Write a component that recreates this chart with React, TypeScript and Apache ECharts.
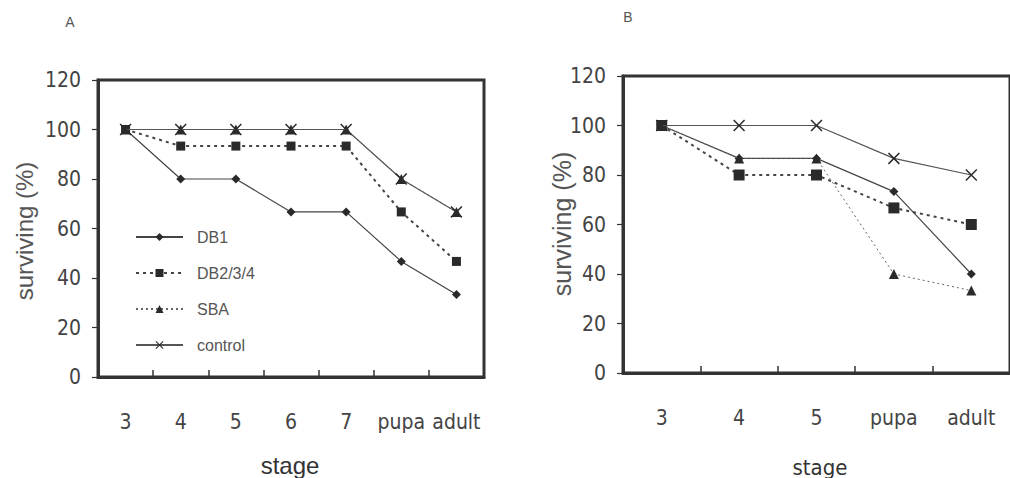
import React, { useEffect, useRef } from "react";
import * as echarts from "echarts";

const stagesA = ["3", "4", "5", "6", "7", "pupa", "adult"];
const stagesB = ["3", "4", "5", "pupa", "adult"];

const seriesNames = ["DB1", "DB2/3/4", "SBA", "control"];

const db1A = [100, 80, 80, 66.7, 66.7, 46.7, 33.3];
const db234A = [100, 93.3, 93.3, 93.3, 93.3, 66.7, 46.7];
const sbaA = [100, 100, 100, 100, 100, 80, 66.7];
const controlA = [100, 100, 100, 100, 100, 80, 66.7];

const db1B = [100, 86.7, 86.7, 73.3, 40];
const db234B = [100, 80, 80, 66.7, 60];
const sbaB = [100, 86.7, 86.7, 40, 33.3];
const controlB = [100, 100, 100, 86.7, 80];

const CROSS = "path://M0,0.9 L0.9,0 L10,9.1 L9.1,10 Z M9.1,0 L10,0.9 L0.9,10 L0,9.1 Z";

const TICK_FONT = "'Liberation Sans Narrow', 'DejaVu Sans Condensed', 'Liberation Sans', sans-serif";
const TEXT_FONT = "'Liberation Sans', Arial, sans-serif";

export default function App() {
  const ref = useRef<HTMLDivElement>(null);

  useEffect(() => {
    document.body.style.margin = "0";
    if (!ref.current) return;
    const chart = echarts.init(ref.current, undefined, { renderer: "svg" });

    const styles = [
      { symbol: "diamond", symbolSize: 9, lineStyle: { color: "#444", width: 1.2, type: "solid" } },
      { symbol: "rect", symbolSize: 9, lineStyle: { color: "#444", width: 2, type: [3, 4] } },
      { symbol: "triangle", symbolSize: 10, lineStyle: { color: "#666", width: 1, type: [2, 3] } },
      { symbol: CROSS, symbolSize: 12, lineStyle: { color: "#555", width: 1.2, type: "solid" } },
    ];
    const dataA = [db1A, db234A, sbaA, controlA];
    const dataB = [db1B, db234B, sbaB, controlB];

    const mk = (i: number, data: number[], axis: number) => ({
      type: "line",
      name: seriesNames[i],
      xAxisIndex: axis,
      yAxisIndex: axis,
      data,
      symbol: styles[i].symbol,
      symbolSize: axis === 1 && i === 1 ? 11 : styles[i].symbolSize,
      showAllSymbol: true,
      lineStyle: styles[i].lineStyle,
      itemStyle: { color: "#2a2a2a" },
      z: 2 + i,
    });

    const series: any[] = [];
    dataA.forEach((d, i) => series.push(mk(i, d, 0)));
    dataB.forEach((d, i) => series.push(mk(i, d, 1)));

    const xAxisCommon = {
      type: "category",
      boundaryGap: true,
      axisLine: { show: true, lineStyle: { color: "#333", width: 3 } },
      axisTick: { show: true, inside: true, length: 7, lineStyle: { color: "#333", width: 1.5 } },
      axisLabel: { interval: 0, margin: 34, fontSize: 21, color: "#444", fontFamily: TICK_FONT },
      splitLine: { show: false },
    };
    const yAxisCommon = {
      type: "value",
      min: 0,
      max: 120,
      interval: 20,
      axisLine: { show: true, lineStyle: { color: "#333", width: 3 } },
      axisTick: { show: true, inside: false, length: 6, lineStyle: { color: "#333", width: 1.2 } },
      axisLabel: { margin: 17, fontSize: 21, color: "#444", fontFamily: TICK_FONT },
      splitLine: { show: false },
    };

    chart.setOption({
      animation: false,
      backgroundColor: "#ffffff",
      grid: [
        { left: 98, top: 80, width: 386, height: 297, show: true, borderColor: "#333", borderWidth: 3, backgroundColor: "transparent" },
        { left: 623, top: 76, width: 390, height: 297, show: true, borderColor: "#333", borderWidth: 3, backgroundColor: "transparent" },
      ],
      xAxis: [
        { ...xAxisCommon, gridIndex: 0, data: stagesA },
        { ...xAxisCommon, gridIndex: 1, data: stagesB },
      ],
      yAxis: [
        { ...yAxisCommon, gridIndex: 0 },
        { ...yAxisCommon, gridIndex: 1 },
      ],
      legend: {
        data: seriesNames,
        orient: "vertical",
        left: 130,
        top: 222,
        itemWidth: 47,
        itemHeight: 10,
        itemGap: 16,
        selectedMode: false,
        textStyle: {
          fontSize: 16,
          lineHeight: 20,
          color: "#555",
          fontFamily: TEXT_FONT,
          padding: [0, 0, 0, 9],
        },
      },
      graphic: [
        { type: "text", x: 70, y: 22, style: { text: "A", fontSize: 14, fill: "#555", fontFamily: TEXT_FONT, align: "center", verticalAlign: "middle" } },
        { type: "text", x: 628, y: 17, style: { text: "B", fontSize: 14, fill: "#555", fontFamily: TEXT_FONT, align: "center", verticalAlign: "middle" } },
        { type: "text", x: 290, y: 465, style: { text: "stage", fontSize: 24, fill: "#333", fontFamily: TEXT_FONT, align: "center", verticalAlign: "middle" } },
        { type: "text", x: 820, y: 467, style: { text: "stage", fontSize: 22, fill: "#333", fontFamily: TICK_FONT, align: "center", verticalAlign: "middle" } },
        { type: "text", x: 24, y: 231, rotation: Math.PI / 2, style: { text: "surviving (%)", fontSize: 24, fill: "#555", fontFamily: TEXT_FONT, align: "center", verticalAlign: "middle" } },
        { type: "text", x: 562, y: 224, rotation: Math.PI / 2, style: { text: "surviving (%)", fontSize: 25, fill: "#555", fontFamily: TEXT_FONT, align: "center", verticalAlign: "middle" } },
      ],
      series,
    });

    return () => chart.dispose();
  }, []);

  return <div ref={ref} style={{ width: 1010, height: 478 }} />;
}
